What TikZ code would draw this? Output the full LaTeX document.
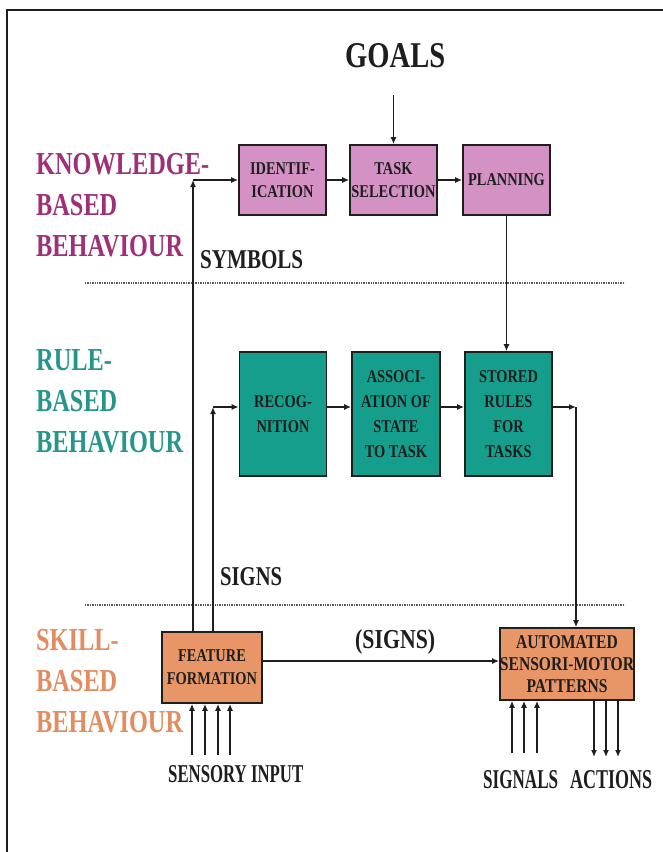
\documentclass[tikz,border=0pt]{standalone}
\usepackage{fontspec}
\setmainfont{Liberation Serif}
\newfontfamily\labfont[FakeStretch=0.76]{Liberation Serif}
\newfontfamily\boxfont[FakeStretch=0.8]{Liberation Serif}
\usetikzlibrary{arrows.meta}
\definecolor{pinkfill}{RGB}{212,146,196}
\definecolor{tealfill}{RGB}{22,158,140}
\definecolor{orangefill}{RGB}{232,150,104}
\definecolor{knowcol}{RGB}{158,48,120}
\definecolor{rulecol}{RGB}{38,150,138}
\definecolor{skillcol}{RGB}{226,140,96}
\definecolor{ink}{RGB}{30,30,30}
\newcommand\fitw[3]{\resizebox{#1}{#2}{\bfseries #3}}
\tikzset{
  blockbox/.style={draw=ink, line width=1.7pt, text=ink, align=center, inner sep=0pt,
    font=\boxfont\bfseries\fontsize{18}{23}\selectfont},
  pinkbox/.style={blockbox, fill=pinkfill, minimum width=87pt, minimum height=70pt},
  tealbox/.style={blockbox, fill=tealfill, minimum width=87pt, minimum height=124pt,
    font=\boxfont\bfseries\fontsize{18}{25}\selectfont},
  orangebox/.style={blockbox, fill=orangefill, minimum height=71pt},
  levellabel/.style={anchor=west, align=left, inner sep=0pt,
    font=\labfont\bfseries\fontsize{32}{41}\selectfont},
  plainlabel/.style={anchor=base west, inner sep=0pt, text=ink},
  conn/.style={draw=ink, line width=1.4pt, -{Latex[length=7pt,width=6pt]}},
  divider/.style={draw=black!65, line width=2.2pt, dash pattern=on 1.3pt off 1.1pt}
}
\begin{document}
\begin{tikzpicture}[x=1pt,y=-1pt]
\useasboundingbox (0,0) rectangle (663,852);
\fill[white] (0,0) rectangle (663,852);
\draw[ink, line width=1.3pt] (7,852) -- (7,10) -- (663,10);

% level labels
\node[levellabel, text=knowcol] (klab) at (36,205) {KNOWLEDGE-\\BASED\\BEHAVIOUR};
\node[levellabel, text=rulecol] (rlab) at (36,401) {RULE-\\BASED\\BEHAVIOUR};
\node[levellabel, text=skillcol] (slab) at (36,681) {SKILL-\\BASED\\BEHAVIOUR};

% dividers
\draw[divider] (85,283) -- (625,283);
\draw[divider] (85,605) -- (625,605);

% text labels
\node[plainlabel] (goals) at (345,67) {\fitw{100pt}{24pt}{GOALS}};
\node[plainlabel] (symbols) at (200,268) {\fitw{103pt}{18pt}{SYMBOLS}};
\node[plainlabel] (signs) at (220,585) {\fitw{62pt}{18pt}{SIGNS}};
\node[plainlabel] (signs2) at (355,648) {\fitw{80pt}{19pt}{(SIGNS)}};
\node[plainlabel] (sensory) at (168,782) {\fitw{135pt}{17pt}{SENSORY INPUT}};
\node[plainlabel] (signals) at (483,788) {\fitw{75pt}{18pt}{SIGNALS}};
\node[plainlabel] (actions) at (570,788) {\fitw{82pt}{18pt}{ACTIONS}};

% knowledge boxes
\node[pinkbox] (ident) at (282.5,180) {IDENTIF-\\ICATION};
\node[pinkbox] (task) at (393.5,180) {TASK\\SELECTION};
\node[pinkbox] (plan) at (506.5,180) {PLANNING};

% rule boxes
\node[tealbox] (recog) at (283,414) {RECOG-\\NITION};
\node[tealbox, minimum width=88pt] (assoc) at (396,414) {ASSOCI-\\ATION OF\\STATE\\TO TASK};
\node[tealbox] (stored) at (508.5,414) {STORED\\RULES\\FOR\\TASKS};

% skill boxes
\node[orangebox, minimum width=100pt] (feat) at (212,667.5) {FEATURE\\FORMATION};
\node[orangebox, minimum width=130pt, minimum height=72pt,
      font=\boxfont\bfseries\fontsize{19.5}{22}\selectfont] (auto) at (567,664)
      {AUTOMATED\\SENSORI-MOTOR\\PATTERNS};

% coordinates
\coordinate (goalsend) at (393.5,95);
\coordinate (kcorner) at (193,180);
\coordinate (rcorner) at (213,407);
\coordinate (scorner) at (576,407);
\coordinate (sk) at (0,661);
\coordinate (in1) at (192,755);
\coordinate (in2) at (205,755);
\coordinate (in3) at (218,755);
\coordinate (in4) at (230,755);
\coordinate (sg1) at (512,753);
\coordinate (sg2) at (524,753);
\coordinate (sg3) at (537,753);
\coordinate (ac1) at (594,757);
\coordinate (ac2) at (606,757);
\coordinate (ac3) at (618,757);

% connectors
\draw[conn] (goalsend) -- (task.north);
\draw[conn] (kcorner |- feat.north) -- (kcorner);
\draw[conn] (kcorner) -- (ident.west);
\draw[conn] (ident) -- (task);
\draw[conn] (task) -- (plan);
\draw[conn] (plan.south) -- (plan.south |- stored.north);

\draw[conn] (rcorner |- feat.north) -- (rcorner);
\draw[conn] (rcorner) -- (recog.west |- rcorner);
\draw[conn] (recog.east |- rcorner) -- (assoc.west |- rcorner);
\draw[conn] (assoc.east |- rcorner) -- (stored.west |- rcorner);
\draw[conn] (stored.east |- scorner) -- (scorner);
\draw[conn] (scorner) -- (scorner |- auto.north);

\draw[conn] (feat.east |- sk) -- (auto.west |- sk);

\foreach \c in {in1,in2,in3,in4} \draw[conn] (\c) -- (\c |- feat.south);
\foreach \c in {sg1,sg2,sg3} \draw[conn] (\c) -- (\c |- auto.south);
\foreach \c in {ac1,ac2,ac3} \draw[conn] (\c |- auto.south) -- (\c);
\end{tikzpicture}
\end{document}
